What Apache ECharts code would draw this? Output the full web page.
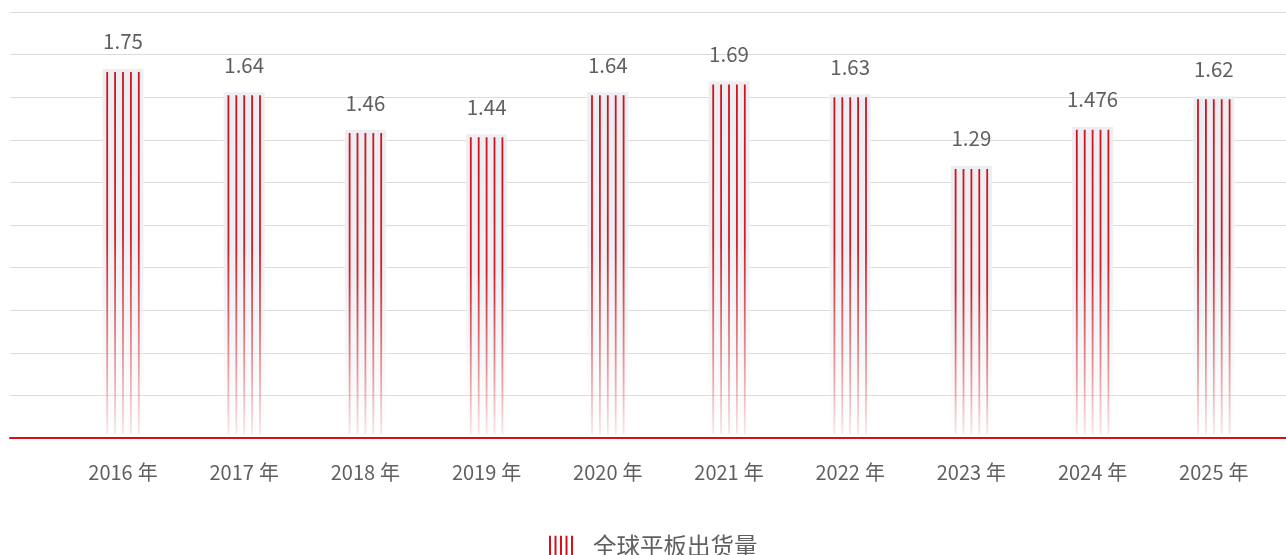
<!DOCTYPE html>
<html><head><meta charset="utf-8">
<script src="https://cdn.jsdelivr.net/npm/echarts@6/dist/echarts.min.js"></script>
<style>html,body{margin:0;padding:0;background:#fff}#c{width:1286px;height:555px}</style>
</head><body><div id="c"></div>
<script>
const categories = ['2016年','2017年','2018年','2019年','2020年','2021年','2022年','2023年','2024年','2025年'];
const values = [1.75, 1.64, 1.46, 1.44, 1.64, 1.69, 1.63, 1.29, 1.476, 1.62];
const seriesName = '全球平板出货量';
const yMax = 2.02, yInterval = 0.202;

const FONT = "'Noto Sans CJK SC', 'Noto Sans', sans-serif";
const RED = '#d2121d';
const chart = echarts.init(document.getElementById('c'));

function renderItem(params, api) {
  const p = api.coord([api.value(0), api.value(1)]);
  const b = api.coord([api.value(0), 0]);
  const bw = 41, top = p[1], bottom = b[1], cx = p[0];
  const kids = [{
    type: 'rect',
    shape: { x: cx - bw / 2, y: top, width: bw, height: bottom - top },
    style: { fill: new echarts.graphic.LinearGradient(0, 0, 0, 1, [
      { offset: 0, color: 'rgba(236,238,242,1)' },
      { offset: 0.45, color: 'rgba(238,240,243,1)' },
      { offset: 1, color: 'rgba(240,241,244,0)' }
    ]) }
  }];
  const offs = [-15.8, -7.9, 0, 7.9, 15.8];
  offs.forEach(o => kids.push({
    type: 'rect',
    shape: { x: cx + o - 0.9, y: top + 3, width: 1.8, height: bottom - 4 - top - 3 },
    style: { fill: new echarts.graphic.LinearGradient(0, 0, 0, 1, [
      { offset: 0, color: 'rgba(210,18,29,1)' },
      { offset: 0.45, color: 'rgba(210,18,29,0.95)' },
      { offset: 1, color: 'rgba(210,18,29,0.1)' }
    ]) }
  }));
  kids.push({
    type: 'text',
    style: { text: String(values[params.dataIndex]), x: cx, y: top - 17, align: 'center', verticalAlign: 'bottom',
      fill: '#5f5f5f', font: '20.5px ' + FONT }
  });
  return { type: 'group', children: kids };
}

chart.setOption({
  animation: false,
  textStyle: { fontFamily: FONT },
  grid: [
    { left: 10, right: 0, top: 12, bottom: 117 },
    { left: 62.4, width: 1212, top: 12, bottom: 117 }
  ],
  xAxis: [
    { gridIndex: 0, type: 'category', data: categories, axisLabel: { show: false }, axisTick: { show: false },
      axisLine: { lineStyle: { color: RED, width: 2 } } },
    { gridIndex: 1, type: 'category', data: categories, axisTick: { show: false }, axisLine: { show: false },
      axisLabel: {
        margin: 24,
        formatter: function (v) { const m = v.match(/^(\d+)(.*)$/); return m ? '{a|' + m[1] + '}{b|' + m[2] + '}' : v; },
        rich: {
          a: { color: '#5f5f5f', fontSize: 20, fontFamily: FONT },
          b: { color: '#5f5f5f', fontSize: 20, fontFamily: FONT, padding: [0, 0, 0, 5] }
        }
      } }
  ],
  yAxis: [
    { gridIndex: 0, type: 'value', min: 0, max: yMax, interval: yInterval, axisLabel: { show: false },
      axisLine: { show: false }, axisTick: { show: false }, splitLine: { lineStyle: { color: '#dcdcdc', width: 1 } } },
    { gridIndex: 1, type: 'value', min: 0, max: yMax, interval: yInterval, show: false, splitLine: { show: false } }
  ],
  legend: {
    left: 549, top: 534, padding: 0, itemWidth: 24, itemHeight: 20,
    icon: 'path://M0,0h2v20h-2z M5.5,0h2v20h-2z M11,0h2v20h-2z M16.5,0h2v20h-2z M22,0h2v20h-2z',
    textStyle: { fontSize: 23.5, lineHeight: 22, color: '#5f5f5f', padding: [0, 0, 0, 15], fontFamily: FONT },
    data: [seriesName]
  },
  series: [{
    name: seriesName, type: 'custom', xAxisIndex: 1, yAxisIndex: 1,
    itemStyle: { color: RED },
    renderItem: renderItem,
    encode: { x: 0, y: 1 },
    data: values.map((v, i) => [i, v])
  }]
});
</script></body></html>
